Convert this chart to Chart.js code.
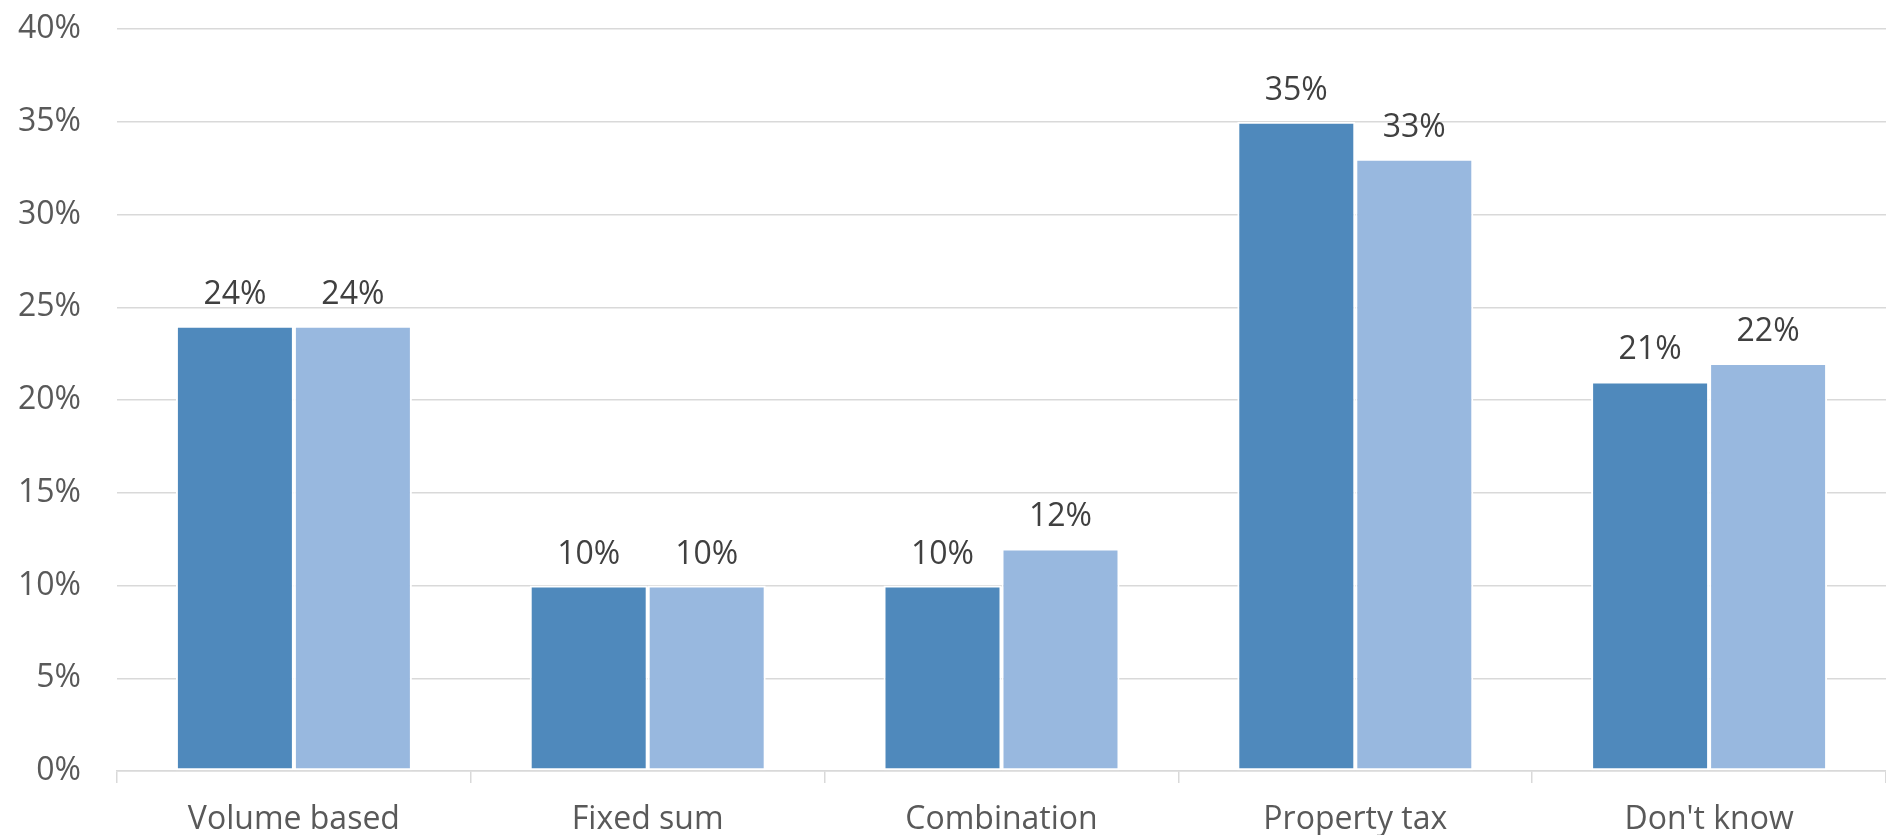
<!DOCTYPE html>
<html>
<head>
<meta charset="utf-8">
<script src="https://cdn.jsdelivr.net/npm/chart.js@4.4.1/dist/chart.umd.min.js"></script>
<style>
  html, body { margin: 0; padding: 0; background: #fff; overflow: hidden; }
  #wrap { position: relative; width: 1886px; height: 835px; }
</style>
</head>
<body>
<div id="wrap"><canvas id="myChart"></canvas></div>
<script>
let categories = ['Volume based', 'Fixed sum', 'Combination', 'Property tax', "Don't know"];
let seriesA = [24, 10, 10, 35, 21];
let seriesB = [24, 10, 12, 33, 22];
let yTicks = [0, 5, 10, 15, 20, 25, 30, 35, 40];

// draws the percent labels above each bar
let valueLabels = {
    id: 'valueLabels',
    afterDatasetsDraw(chart) {
        let ctx = chart.ctx;
        ctx.save();
        ctx.font = '32px "Open Sans"';
        ctx.fillStyle = '#404040';
        ctx.textAlign = 'center';
        ctx.textBaseline = 'alphabetic';
        chart.data.datasets.forEach((ds, i) => {
            chart.getDatasetMeta(i).data.forEach((bar, j) => {
                ctx.fillText(ds.data[j] + '%', bar.x, bar.y - 22);
            });
        });
        ctx.restore();
    }
};

let myChart = document.getElementById('myChart').getContext('2d');

let newChart = new Chart(myChart, {
    type: 'bar',
    data: {
        labels: categories,
        datasets: [{
            label: 'A',
            data: seriesA,
            backgroundColor: '#4f89bc',
            borderColor: '#ffffff',
            borderWidth: 2,
            borderSkipped: false
        }, {
            label: 'B',
            data: seriesB,
            backgroundColor: '#98b8df',
            borderColor: '#ffffff',
            borderWidth: 2,
            borderSkipped: false
        }]
    },
    options: {
        responsive: true,
        maintainAspectRatio: false,
        animation: false,
        datasets: {
            bar: { categoryPercentage: 0.667, barPercentage: 1.0 }
        },
        layout: { padding: { top: 29, left: 8, right: 0, bottom: 0 } },
        plugins: {
            legend: { display: false },
            tooltip: { enabled: false }
        },
        scales: {
            x: {
                afterFit(axis) {
                    axis.height = 64;
                },
                grid: {
                    offset: true,
                    drawOnChartArea: false,
                    drawTicks: true,
                    tickLength: 12,
                    color: '#d9d9d9',
                    lineWidth: 1.5
                },
                border: { color: '#d9d9d9', width: 1.5 },
                ticks: {
                    color: '#595959',
                    padding: 18,
                    font: { family: 'Open Sans', size: 32 },
                    maxRotation: 0
                }
            },
            y: {
                min: 0,
                max: 40,
                afterBuildTicks(axis) {
                    axis.ticks = yTicks.map(v => ({ value: v }));
                },
                afterFit(axis) {
                    axis.width = 109;
                    axis.paddingTop = 0;
                    axis.paddingBottom = 0;
                },
                grid: {
                    color: '#d9d9d9',
                    lineWidth: 1.5,
                    drawTicks: false
                },
                border: { display: false },
                ticks: {
                    color: '#595959',
                    padding: 36,
                    font: { family: 'Open Sans', size: 32 },
                    callback: v => v + '%'
                }
            }
        }
    },
    plugins: [valueLabels]
});
</script>
</body>
</html>
